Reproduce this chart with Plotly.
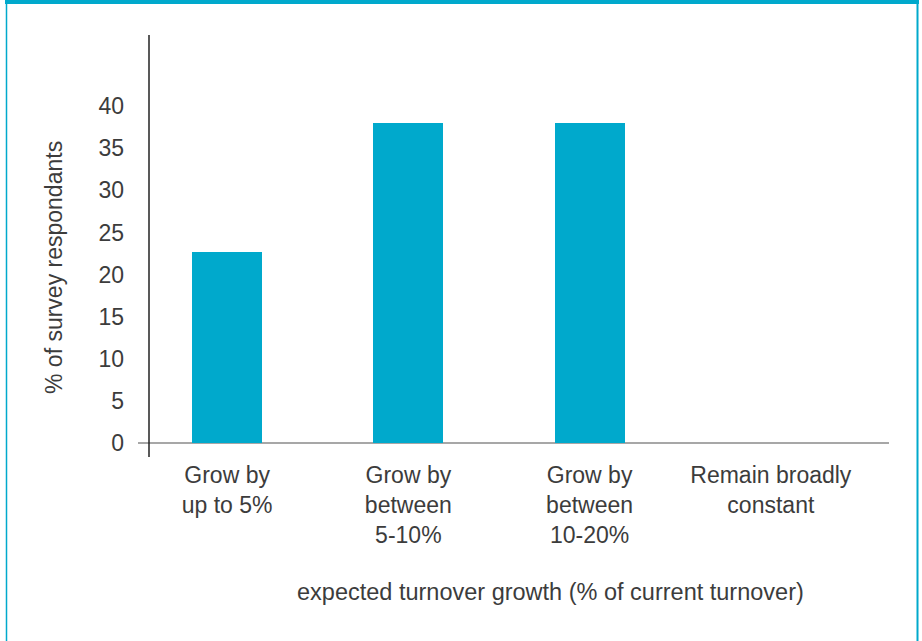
import plotly.graph_objects as go

# Survey data
categories = ["Grow by<br>up to 5%", "Grow by<br>between<br>5-10%", "Grow by<br>between<br>10-20%", "Remain broadly<br>constant"]
respondents_pct = [22.7, 38.0, 38.0, 0.0]
y_ticks = [0, 5, 10, 15, 20, 25, 30, 35, 40]

TEAL = "#00a9cc"
TEXT = "#3c3c3c"
FONT = "Liberation Sans, Arial, sans-serif"
FS = 23

W, H = 922, 641
L, R, T, B = 149, 889, 35, 457


def px_x(p):
    return (p - L) / (R - L)


def px_y(p):
    return (B - p) / (B - T)


positions = list(range(len(categories)))

fig = go.Figure(
    go.Bar(
        x=positions,
        y=respondents_pct,
        width=0.387,
        marker=dict(color=TEAL, line=dict(width=0)),
        hoverinfo="skip",
    )
)

shapes = [
    # zero baseline
    dict(type="line", xref="paper", yref="y", x0=px_x(138), x1=px_x(889), y0=0, y1=0,
         line=dict(color="#8a8a8a", width=1.6), layer="below"),
    # vertical value axis
    dict(type="line", xref="paper", yref="paper", x0=px_x(149), x1=px_x(149), y0=px_y(35), y1=px_y(457),
         line=dict(color="#222222", width=1.5)),
    # frame: thick top bar, thin sides
    dict(type="rect", xref="paper", yref="paper", x0=px_x(5), x1=px_x(919), y0=px_y(0), y1=px_y(4),
         fillcolor=TEAL, line=dict(width=0)),
    dict(type="line", xref="paper", yref="paper", x0=px_x(6.5), x1=px_x(6.5), y0=px_y(0), y1=px_y(641),
         line=dict(color=TEAL, width=1.5)),
    dict(type="line", xref="paper", yref="paper", x0=px_x(917.5), x1=px_x(917.5), y0=px_y(0), y1=px_y(641),
         line=dict(color=TEAL, width=2)),
]

annotations = [
    dict(text="% of survey respondants", xref="paper", yref="paper", x=px_x(54), y=px_y(268),
         textangle=-90, showarrow=False, font=dict(size=FS, color=TEXT, family=FONT),
         xanchor="center", yanchor="middle"),
    dict(text="expected turnover growth (% of current turnover)", xref="paper", yref="paper",
         x=px_x(550), y=px_y(592), showarrow=False, font=dict(size=23.5, color=TEXT, family=FONT),
         xanchor="center", yanchor="middle"),
]

fig.update_layout(
    width=W,
    height=H,
    margin=dict(l=L, r=W - R, t=T, b=H - B, pad=0),
    paper_bgcolor="white",
    plot_bgcolor="white",
    showlegend=False,
    bargap=0,
    shapes=shapes,
    annotations=annotations,
    font=dict(family=FONT, color=TEXT, size=FS),
    xaxis=dict(
        range=[-0.431, 3.652],
        tickvals=positions,
        ticktext=categories,
        showgrid=False,
        zeroline=False,
        showline=False,
        ticks="",
        tickfont=dict(size=FS, color=TEXT, family=FONT),
        ticklabelstandoff=2,
        fixedrange=True,
    ),
    yaxis=dict(
        range=[-1.66, 48.46],
        tickvals=y_ticks,
        showgrid=False,
        zeroline=False,
        showline=False,
        ticks="",
        tickfont=dict(size=FS, color=TEXT, family=FONT),
        ticklabelstandoff=24,
        fixedrange=True,
    ),
)

fig.write_html("out.html", config={"displayModeBar": False})
